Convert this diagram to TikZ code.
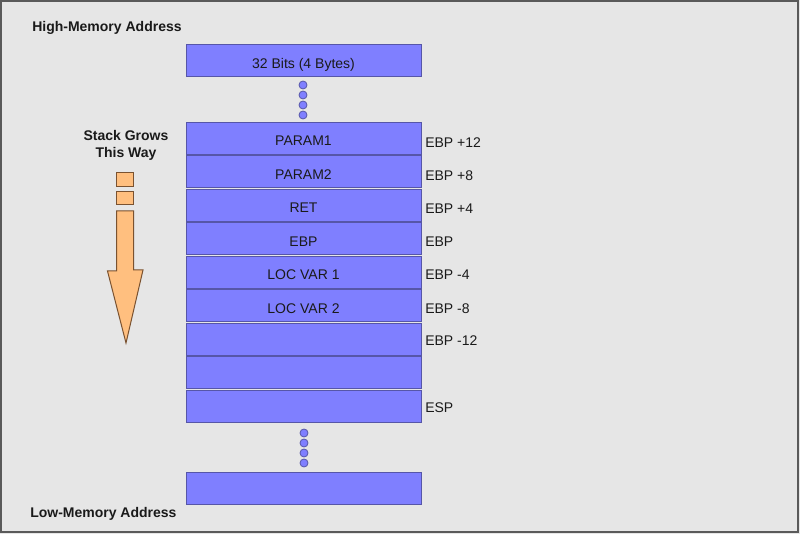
\documentclass[tikz,border=0pt]{standalone}
\usepackage{fontspec}
\setmainfont{Liberation Sans}
\definecolor{bg}{HTML}{E6E6E6}
\definecolor{frame}{HTML}{5A5A5A}
\definecolor{cellfill}{HTML}{7F7FFF}
\definecolor{celldraw}{HTML}{5656A8}
\definecolor{arrowfill}{HTML}{FFBF7F}
\definecolor{arrowdraw}{HTML}{7A5230}
\definecolor{txt}{HTML}{1A1A1A}
\tikzset{
  cell/.style={draw=celldraw, fill=cellfill, line width=0.75pt, minimum width=176.25pt, minimum height=24pt, inner sep=0pt, text height=10.6pt, text depth=0pt, font=\fontsize{10.5}{12}\selectfont, text=txt},
  dot/.style={circle, draw=celldraw, fill=cellfill, line width=0.6pt, minimum size=6pt, inner sep=0pt},
  reg/.style={anchor=west, inner sep=0pt, text height=7.6pt, text depth=0pt, font=\fontsize{10.5}{12}\selectfont, text=txt},
  heading/.style={inner sep=0pt, font=\bfseries\fontsize{10.5}{12.6}\selectfont, text=txt},
  growarrow/.style={draw=arrowdraw, fill=arrowfill, line width=0.75pt, line join=miter}
}
\begin{document}
\begin{tikzpicture}[x=0.75pt, y=-0.75pt]
\useasboundingbox (0,0) rectangle (800,534);
\fill[bg] (0,0) rectangle (800,534);
\draw[frame, line width=1.2pt] (1,1) rectangle (798,532);

\node[heading, anchor=west, text height=7.6pt, text depth=0pt] (high) at (32,26) {High-Memory Address};
\node[heading, anchor=west, text height=7.6pt, text depth=0pt] (low) at (30,512) {Low-Memory Address};

\node[cell] (top) at (303.5,61) {32 Bits (4 Bytes)};
\foreach \i/\y in {1/85,2/95,3/105,4/115} \node[dot] (ud\i) at (303,\y) {};

\node[cell] (s1) at (303.5,138.5) {PARAM1};
\node[cell] (s2) at (303.5,172) {PARAM2};
\node[cell] (s3) at (303.5,205.5) {RET};
\node[cell] (s4) at (303.5,239) {EBP};
\node[cell] (s5) at (303.5,272.5) {LOC VAR 1};
\node[cell] (s6) at (303.5,306) {LOC VAR 2};
\node[cell] (s7) at (303.5,339.5) {};
\node[cell] (s8) at (303.5,373) {};
\node[cell] (s9) at (303.5,406.5) {};

\foreach \i/\y in {1/433,2/443,3/453,4/463} \node[dot] (ld\i) at (304,\y) {};
\node[cell] (bot) at (303.5,489) {};

\node[reg] (l1) at (425,142) {EBP +12};
\node[reg] (l2) at (425,175) {EBP +8};
\node[reg] (l3) at (425,208) {EBP +4};
\node[reg] (l4) at (425,241) {EBP};
\node[reg] (l5) at (425,274) {EBP -4};
\node[reg] (l6) at (425,308) {EBP -8};
\node[reg] (l7) at (425,340) {EBP -12};
\node[reg] (l9) at (425,407) {ESP};

\node[heading, align=center] (grow) at (126,145) {Stack Grows\\This Way};

\draw[growarrow] (116.5,173) rectangle (133.5,187);
\draw[growarrow] (116.5,192) rectangle (133.5,205);
\draw[growarrow] (116.5,211) -- (133.5,211) -- (133.5,270) -- (143,270) -- (126,343) -- (107.5,271) -- (116.5,271) -- cycle;
\end{tikzpicture}
\end{document}
